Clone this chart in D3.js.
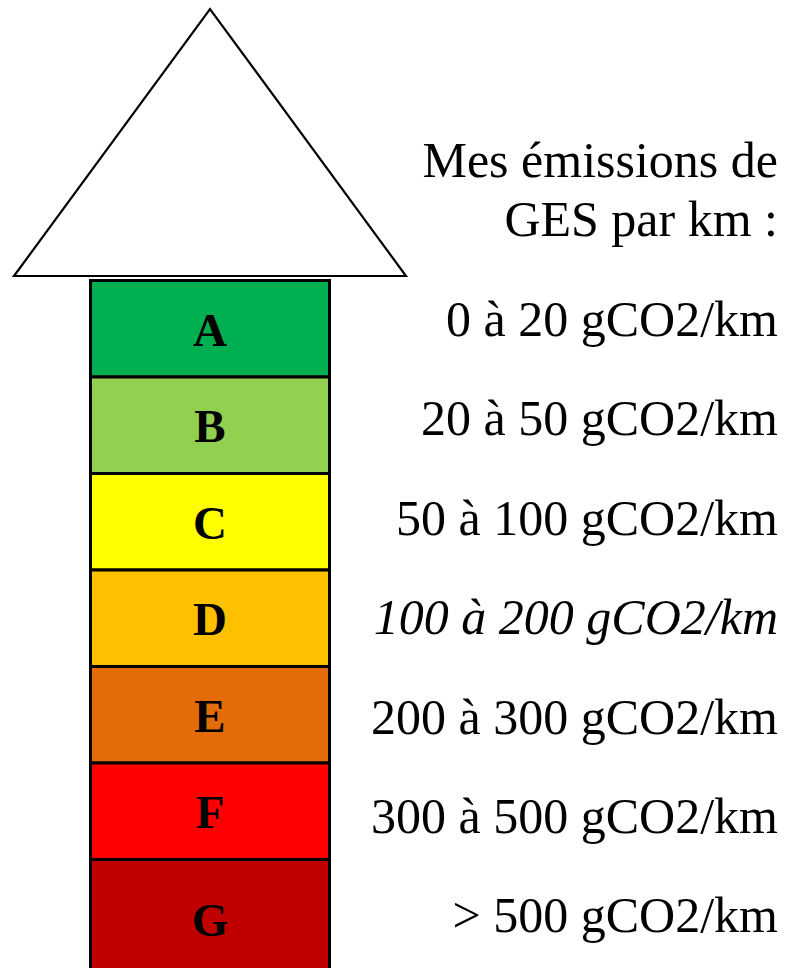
<!DOCTYPE html>
<html>
<head>
<meta charset="utf-8">
<script src="https://cdn.jsdelivr.net/npm/d3@7"></script>
<style>
  body { margin: 0; background: #fff; overflow: hidden; }
  svg { display: block; }
</style>
</head>
<body>
<div id="chart"></div>
<script>
// classes et libellés
const classes = ["A", "B", "C", "D", "E", "F", "G"];
const ranges = [
  "0 à 20 gCO2/km",
  "20 à 50 gCO2/km",
  "50 à 100 gCO2/km",
  "100 à 200 gCO2/km",
  "200 à 300 gCO2/km",
  "300 à 500 gCO2/km",
  "> 500 gCO2/km"
];
const colors = ["#00B050", "#92D050", "#FFFF00", "#FFC000", "#E36C09", "#FF0000", "#C00000"];
const italicRows = ["D"];
const titleLines = ["Mes émissions de", "GES par km :"];

const width = 787, height = 968;

const svg = d3.select("#chart")
  .append("svg")
  .attr("width", width)
  .attr("height", height);

// la flèche : triangle au-dessus
const tri = { left: 14, right: 406, base: 276, apex: 9 };
svg.append("path")
  .attr("d", d3.line()([
    [tri.left, tri.base],
    [(tri.left + tri.right) / 2, tri.apex],
    [tri.right, tri.base]
  ]) + "Z")
  .attr("fill", "#fff")
  .attr("stroke", "#000")
  .attr("stroke-width", 2.2)
  .attr("stroke-linejoin", "miter");

// colonne des classes
const colX = 90.5, colW = 239;
const y = d3.scaleBand()
  .domain(classes)
  .range([280.5, 280.5 + 96.5 * classes.length])
  .padding(0);

// la dernière case descend jusqu'au bord
function rowH(d) {
  return d === classes[classes.length - 1] ? height + 10 - y(d) : y.bandwidth();
}

const rows = svg.append("g")
  .selectAll("g")
  .data(classes)
  .join("g");

rows.append("rect")
  .attr("x", colX)
  .attr("y", d => y(d))
  .attr("width", colW)
  .attr("height", d => rowH(d))
  .attr("fill", (d, i) => colors[i])
  .attr("stroke", "#000")
  .attr("stroke-width", 3);

rows.append("text")
  .attr("x", colX + colW / 2)
  .attr("y", d => y(d) + Math.min(rowH(d), 125) / 2 + 17)
  .attr("text-anchor", "middle")
  .style("font-family", "'Liberation Serif', 'DejaVu Serif', serif")
  .style("font-weight", "bold")
  .style("font-size", "47px")
  .attr("fill", "#000")
  .text(d => d);

// libellés à droite
const textX = 778;
const labelFont = "'Liberation Serif', 'DejaVu Serif', serif";

svg.append("g")
  .selectAll("text")
  .data(titleLines)
  .join("text")
  .attr("x", textX)
  .attr("y", (d, i) => 177 + i * 59)
  .attr("text-anchor", "end")
  .style("font-family", labelFont)
  .style("font-size", "50px")
  .attr("fill", "#000")
  .text(d => d);

// les libellés s'écartent un peu plus que les cases
svg.append("g")
  .selectAll("text")
  .data(classes)
  .join("text")
  .attr("x", textX)
  .attr("y", (d, i) => y(d) + y.bandwidth() / 2 + 16 + (i - 3) * 2.9)
  .attr("text-anchor", "end")
  .style("font-family", labelFont)
  .style("font-style", d => italicRows.includes(d) ? "italic" : "normal")
  .style("font-size", "50px")
  .attr("fill", "#000")
  .text((d, i) => ranges[i]);
</script>
</body>
</html>
